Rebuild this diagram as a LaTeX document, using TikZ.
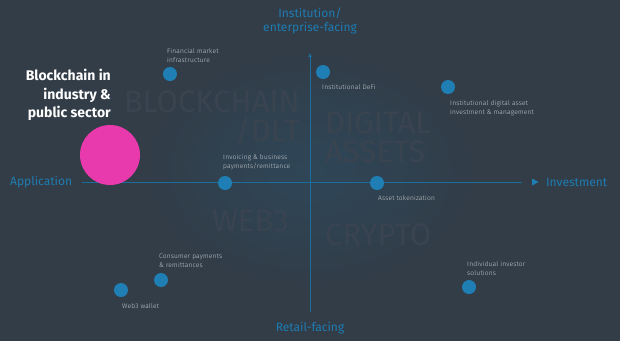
\documentclass[tikz,border=0pt]{standalone}
\usepackage{fontspec}
\setmainfont{Fira Sans}
\newfontfamily\labfont[LetterSpace=3]{Fira Sans Light}
\usetikzlibrary{arrows.meta}
\definecolor{bg}{RGB}{50,61,72}
\definecolor{wm}{RGB}{57,68,80}
\definecolor{dotblue}{RGB}{31,126,180}
\definecolor{axisblue}{RGB}{27,110,156}
\definecolor{labblue}{RGB}{30,124,178}
\definecolor{pinkc}{RGB}{232,58,172}
\definecolor{smalltxt}{RGB}{200,205,210}
\tikzset{
  dot/.style={circle,fill=dotblue,minimum size=14pt,inner sep=0pt},
  small/.style={font=\labfont\fontsize{6.6}{9}\selectfont,text=smalltxt,align=left,inner sep=0pt},
  axlab/.style={font=\fontsize{12}{14}\selectfont,text=labblue,inner sep=0pt},
  water/.style={font=\fontsize{31}{31}\selectfont,text=wm,inner sep=0pt},
  axisline/.style={draw=axisblue,line width=0.9pt}
}
\begin{document}
\begin{tikzpicture}[x=1pt,y=-1pt]
\fill[bg] (0,0) rectangle (620,341);
\useasboundingbox (0,0) rectangle (620,341);
\begin{scope}
\clip (0,0) rectangle (620,341);
\shade[inner color=dotblue!50!bg, outer color=bg, opacity=0.3] (310,170) ellipse (170 and 120);
\end{scope}
% watermarks
\node[water,anchor=base east] (w1) at (300,112) {BLOCKCHAIN};
\node[water,anchor=base east] (w2) at (300,141) {/DLT};
\node[water,anchor=base west] (w3) at (325,133) {DIGITAL};
\node[water,anchor=base west] (w4) at (325,162) {ASSETS};
\node[water,anchor=base east] (w5) at (289,231) {WEB3};
\node[water,anchor=base west] (w6) at (325,245) {CRYPTO};
% axes
\coordinate (hL) at (82,182);
\coordinate (hR) at (522,182);
\coordinate (vT) at (310,53);
\coordinate (vB) at (310,312);
\draw[axisline] (hL) -- (hR);
\draw[axisline,-{Latex[length=4pt,width=4pt]}] (vB) -- (vT);
\coordinate (tri) at (535,182);
\fill[dotblue] ([xshift=-3pt,yshift=-3.5pt]tri) -- ([xshift=3.5pt]tri) -- ([xshift=-3pt,yshift=3.5pt]tri) -- cycle;
% axis labels
\node[axlab,align=center] (top) at (310,21) {Institution/\\enterprise-facing};
\node[axlab,anchor=west] (app) at (10,182) {Application};
\node[axlab,anchor=west] (inv) at (546,182) {Investment};
\node[axlab] (ret) at (310,328) {Retail-facing};
% pink
\node[circle,fill=pinkc,minimum size=60pt,inner sep=0pt] (pink) at (110,155) {};
\node[font=\bfseries\fontsize{14}{18.5}\selectfont,text=white,align=right,anchor=north east,inner sep=0pt] (ttl) at (111,69) {Blockchain in\\industry \&\\public sector};
% dots
\node[dot] (d1) at (170,74) {};
\node[small,anchor=south west] (l1) at (167,63) {Financial market\\infrastructure};
\node[dot] (d2) at (323,72) {};
\node[small,anchor=north west] (l2) at (322,84) {Institutional DeFi};
\node[dot] (d3) at (448,87) {};
\node[small,anchor=north west] (l3) at (450,100) {Institutional digital asset\\investment \& management};
\node[dot] (d4) at (225,183) {};
\node[small,anchor=south west] (l4) at (223,170) {Invoicing \& business\\payments/remittance};
\node[dot] (d5) at (377,183) {};
\node[small,anchor=north west] (l5) at (378,195) {Asset tokenization};
\node[dot] (d6) at (161,280) {};
\node[small,anchor=south west] (l6) at (159,268) {Consumer payments\\\& remittances};
\node[dot] (d7) at (121,290) {};
\node[small,anchor=north west] (l7) at (122,303) {Web3 wallet};
\node[dot] (d8) at (469,287) {};
\node[small,anchor=south west] (l8) at (467,276) {Individual investor\\solutions};
\end{tikzpicture}
\end{document}
